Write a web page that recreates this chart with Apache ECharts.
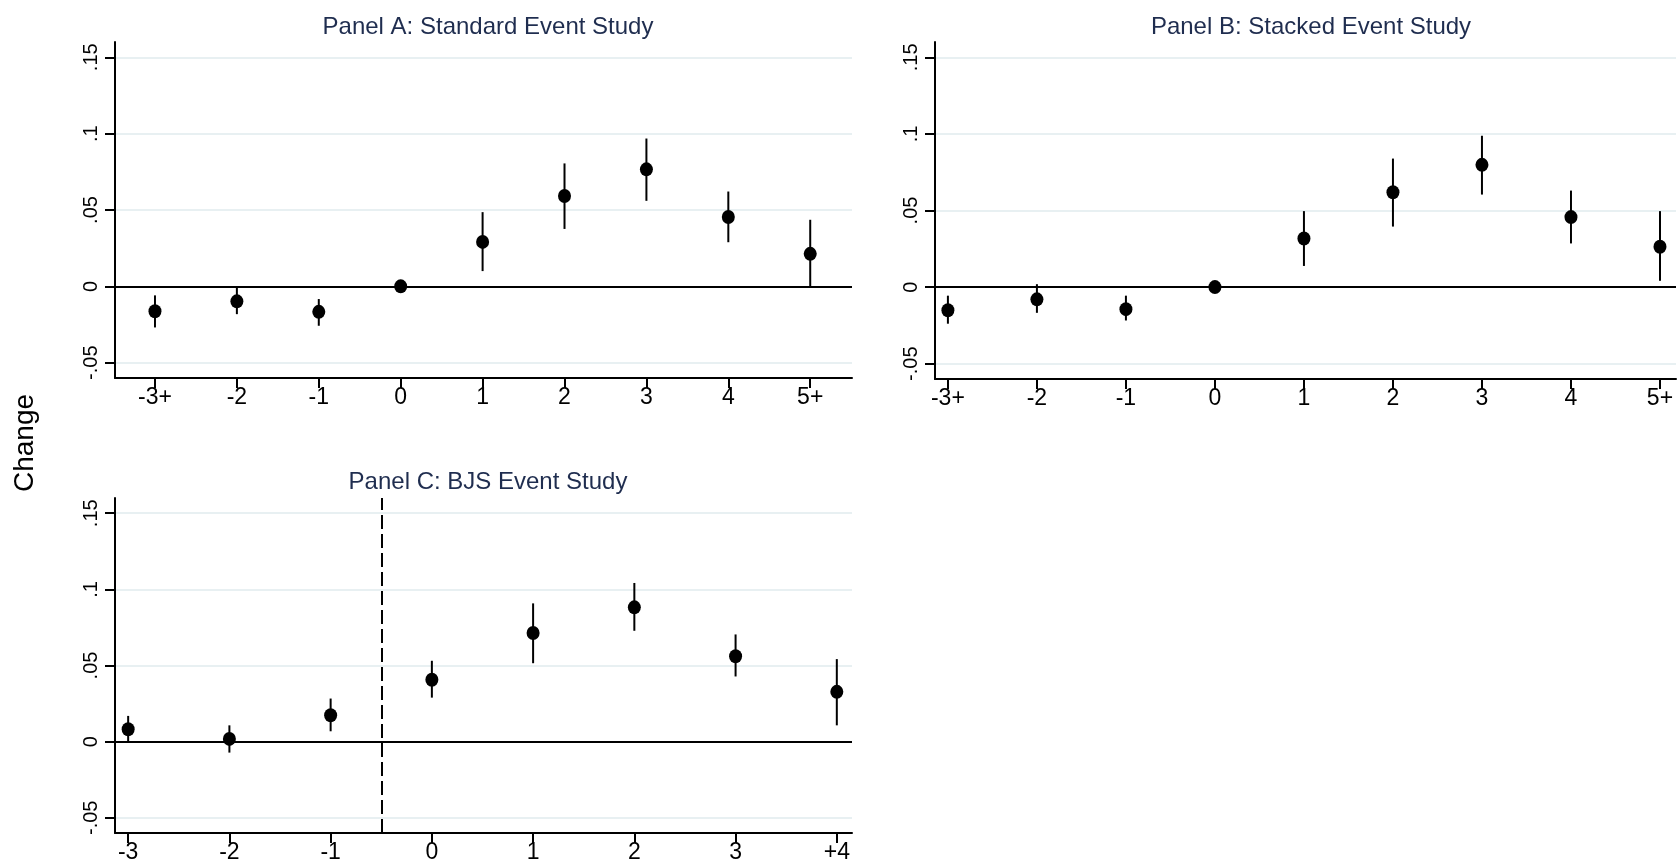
<!DOCTYPE html>
<html>
<head>
<meta charset="utf-8">
<script src="https://cdn.jsdelivr.net/npm/echarts@6/dist/echarts.min.js"></script>
<style>
  html, body { margin: 0; padding: 0; background: #fff; }
  #chart { width: 1679px; height: 866px; }
</style>
</head>
<body>
<div id="chart"></div>
<script>
// tick labels
const catsAB = ["-3+", "-2", "-1", "0", "1", "2", "3", "4", "5+"];
const catsC = ["-3", "-2", "-1", "0", "1", "2", "3", "+4"];
const yTicks = [-0.05, 0, 0.05, 0.1, 0.15];

// Panel A: standard event study
const estA = [-0.0163, -0.0098, -0.0167, 0, 0.0291, 0.0592, 0.0766, 0.0454, 0.0213];
const loA  = [-0.0269, -0.0182, -0.0258, null, 0.0100, 0.0376, 0.0560, 0.0289, 0.0];
const hiA  = [-0.0059, -0.0002, -0.0083, null, 0.0486, 0.0805, 0.0968, 0.0621, 0.0436];

// Panel B: stacked event study
const estB = [-0.0151, -0.0080, -0.0144, 0, 0.0317, 0.0619, 0.0798, 0.0457, 0.0263];
const loB  = [-0.0239, -0.0168, -0.0218, null, 0.0138, 0.0395, 0.0604, 0.0285, 0.0041];
const hiB  = [-0.0056, 0.0019, -0.0056, null, 0.0496, 0.0839, 0.0988, 0.0630, 0.0496];

// Panel C: BJS event study
const estC = [0.0081, 0.0018, 0.0173, 0.0406, 0.0713, 0.0882, 0.0561, 0.0327];
const loC  = [0.0, -0.0072, 0.0068, 0.0289, 0.0515, 0.0728, 0.0428, 0.0107];
const hiC  = [0.0169, 0.0107, 0.0283, 0.0531, 0.0908, 0.1042, 0.0704, 0.0542];

const FONT = "'Liberation Sans', Arial, sans-serif";
const titleColor = "#1f2d4f";

const chart = echarts.init(document.getElementById("chart"));

function fmtY(v) {
  if (Math.abs(v) < 1e-9) return "0";
  return String(+v.toFixed(2)).replace("0.", ".");
}

function xAxis(idx, cats, min, max) {
  return {
    type: "value", gridIndex: idx, min: min, max: max,
    axisLine: { onZero: false, lineStyle: { color: "#000", width: 2 } },
    axisTick: { customValues: cats.map((c, i) => i), length: 10, lineStyle: { color: "#000", width: 2 } },
    axisLabel: {
      customValues: cats.map((c, i) => i),
      formatter: v => cats[Math.round(v)],
      color: "#000", fontFamily: FONT, fontSize: 23, margin: 8
    },
    splitLine: { show: false }
  };
}

function yAxis(idx) {
  return {
    type: "value", gridIndex: idx, min: -0.06, max: 0.16,
    axisLine: { show: true, onZero: false, lineStyle: { color: "#000", width: 2 } },
    axisTick: { show: true, customValues: yTicks, length: 10, lineStyle: { color: "#000", width: 2 } },
    axisLabel: {
      customValues: yTicks, rotate: 90, formatter: fmtY,
      color: "#000", fontFamily: FONT, fontSize: 20, margin: 14
    },
    splitLine: { show: true, lineStyle: { color: "#e8f0f2", width: 2 } }
  };
}

function ciData(lo, hi) {
  const out = [];
  lo.forEach((l, i) => { if (l !== null) out.push([i, l, hi[i]]); });
  return out;
}

function errorBars(idx, lo, hi, extraLines) {
  const lines = [{ yAxis: 0 }].concat(extraLines || []);
  return {
    type: "custom", xAxisIndex: idx, yAxisIndex: idx,
    data: ciData(lo, hi),
    encode: { x: 0, y: [1, 2] },
    renderItem: (params, api) => {
      const p1 = api.coord([api.value(0), api.value(1)]);
      const p2 = api.coord([api.value(0), api.value(2)]);
      return {
        type: "line",
        shape: { x1: p1[0], y1: p1[1], x2: p2[0], y2: p2[1] },
        style: { stroke: "#000", lineWidth: 2 }
      };
    },
    markLine: {
      silent: true, symbol: "none", label: { show: false },
      lineStyle: { color: "#000", width: 2, type: "solid" },
      data: lines
    },
    z: 2
  };
}

function points(idx, est) {
  return {
    type: "scatter", xAxisIndex: idx, yAxisIndex: idx,
    data: est.map((v, i) => [i, v]),
    symbol: "circle", symbolSize: [13, 14],
    itemStyle: { color: "#000", opacity: 1 },
    z: 3
  };
}

const option = {
  backgroundColor: "#fff",
  animation: false,
  title: [
    { text: "Panel A: Standard Event Study", left: 483, top: 10, textAlign: "center" },
    { text: "Panel B: Stacked Event Study", left: 1306, top: 10, textAlign: "center" },
    { text: "Panel C: BJS Event Study", left: 483, top: 465, textAlign: "center" }
  ].map(t => Object.assign(t, {
    textStyle: { color: titleColor, fontFamily: FONT, fontSize: 24, fontWeight: "normal" }
  })),
  graphic: [{
    type: "text", x: 25, y: 443, rotation: Math.PI / 2,
    style: {
      text: "Change", fill: "#000", font: "28px " + FONT,
      textAlign: "center", textVerticalAlign: "middle"
    }
  }],
  grid: [
    { left: 115, top: 42, width: 737, height: 336 },
    { left: 935, top: 42, width: 741, height: 337 },
    { left: 115, top: 498, width: 737, height: 335 }
  ],
  xAxis: [
    xAxis(0, catsAB, -0.488, 8.51),
    xAxis(1, catsAB, -0.145, 8.18),
    xAxis(2, catsC, -0.13, 7.15)
  ],
  yAxis: [yAxis(0), yAxis(1), yAxis(2)],
  series: [
    errorBars(0, loA, hiA),
    points(0, estA),
    errorBars(1, loB, hiB),
    points(1, estB),
    errorBars(2, loC, hiC, [{ xAxis: 2.5, lineStyle: { type: [14, 5] } }]),
    points(2, estC)
  ]
};

chart.setOption(option);
</script>
</body>
</html>
